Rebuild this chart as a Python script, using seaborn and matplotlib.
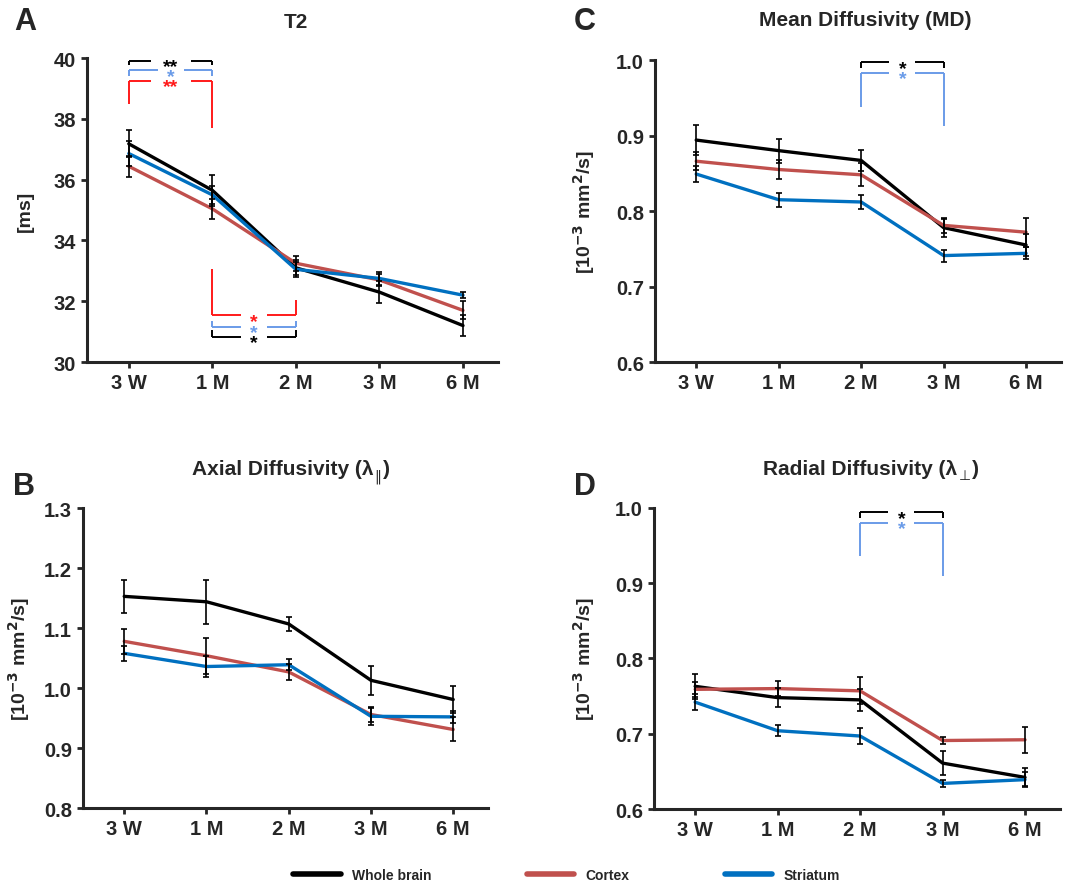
import numpy as np
import pandas as pd
import matplotlib
matplotlib.use('Agg')
import matplotlib.pyplot as plt
import seaborn as sns

times = ['3 W', '1 M', '2 M', '3 M', '6 M']
regions = ['Whole brain', 'Cortex', 'Striatum']
region_colors = ['#000000', '#c0504d', '#0070c0']

# T2 [ms]
t2_whole = [37.18, 35.65, 33.10, 32.30, 31.20]
t2_cortex = [36.44, 35.04, 33.25, 32.70, 31.70]
t2_striatum = [36.86, 35.50, 33.05, 32.75, 32.20]
t2_whole_err = [0.45, 0.50, 0.25, 0.35, 0.35]
t2_cortex_err = [0.35, 0.32, 0.25, 0.20, 0.30]
t2_striatum_err = [0.40, 0.30, 0.25, 0.20, 0.10]

# Mean diffusivity
md_whole = [0.894, 0.880, 0.867, 0.778, 0.755]
md_cortex = [0.866, 0.855, 0.848, 0.781, 0.772]
md_striatum = [0.849, 0.815, 0.812, 0.741, 0.744]
md_whole_err = [0.020, 0.016, 0.014, 0.012, 0.015]
md_cortex_err = [0.012, 0.012, 0.015, 0.010, 0.019]
md_striatum_err = [0.010, 0.009, 0.009, 0.008, 0.008]

# Axial diffusivity
ad_whole = [1.153, 1.144, 1.107, 1.013, 0.981]
ad_cortex = [1.078, 1.054, 1.027, 0.956, 0.931]
ad_striatum = [1.058, 1.036, 1.039, 0.953, 0.952]
ad_whole_err = [0.027, 0.037, 0.012, 0.024, 0.023]
ad_cortex_err = [0.021, 0.030, 0.014, 0.012, 0.020]
ad_striatum_err = [0.012, 0.017, 0.009, 0.014, 0.010]

# Radial diffusivity
rd_whole = [0.763, 0.748, 0.745, 0.661, 0.642]
rd_cortex = [0.759, 0.760, 0.757, 0.691, 0.692]
rd_striatum = [0.742, 0.704, 0.697, 0.634, 0.639]
rd_whole_err = [0.017, 0.013, 0.015, 0.016, 0.012]
rd_cortex_err = [0.010, 0.010, 0.018, 0.005, 0.017]
rd_striatum_err = [0.011, 0.007, 0.011, 0.005, 0.010]

# significance brackets: (from, to, y, left leg end, right leg end, label, colour)
t2_brackets = [
    (0, 1, 39.92, 39.76, 39.76, '**', '#000000'),
    (0, 1, 39.60, 39.42, 39.42, '*', '#6a9be8'),
    (0, 1, 39.25, 38.50, 37.70, '**', '#ff1a1a'),
    (1, 2, 31.54, 33.05, 32.03, '*', '#ff1a1a'),
    (1, 2, 31.15, 31.35, 31.35, '*', '#6a9be8'),
    (1, 2, 30.82, 31.04, 31.04, '*', '#000000'),
]
md_brackets = [
    (2, 3, 0.997, 0.989, 0.989, '*', '#000000'),
    (2, 3, 0.983, 0.938, 0.912, '*', '#6a9be8'),
]
rd_brackets = [
    (2, 3, 0.994, 0.986, 0.986, '*', '#000000'),
    (2, 3, 0.980, 0.936, 0.909, '*', '#6a9be8'),
]

sns.set_style('ticks')
plt.rcParams['font.family'] = ['Liberation Sans', 'DejaVu Sans']
plt.rcParams['font.weight'] = 'bold'
plt.rcParams['mathtext.fontset'] = 'dejavusans'

fig = plt.figure(figsize=(10.65, 8.87), dpi=100)


def draw_panel(ax, means, errs, ylim, yticks, ylabel, label_x, brackets=()):
    rows = []
    for reg, vals in zip(regions, means):
        for t, v in zip(times, vals):
            rows.append({'time': t, 'region': reg, 'value': v})
    df = pd.DataFrame(rows)
    sns.lineplot(data=df, x='time', y='value', hue='region', hue_order=regions,
                 palette=region_colors, sort=False, lw=2.4, legend=False, ax=ax)
    for vals, err in zip(means, errs):
        ax.errorbar(times, vals, yerr=err, fmt='none', ecolor='black',
                    elinewidth=1.2, capsize=2.5, capthick=1.2, zorder=4)
    ax.set_xlim(-0.5, 4.42)
    ax.set_ylim(*ylim)
    ax.set_yticks(yticks)
    if isinstance(yticks[0], float):
        ax.yaxis.set_major_formatter('{x:.1f}')
    ax.set_xlabel('')
    ax.set_ylabel(ylabel, fontsize=14, fontweight='bold')
    ax.yaxis.set_label_coords(label_x, 0.5)
    for s in ['left', 'bottom']:
        ax.spines[s].set_linewidth(2.2)
    sns.despine(ax=ax)
    ax.tick_params(direction='out', length=4, width=2.0, labelsize=14.5, pad=4)
    for lab in ax.get_xticklabels() + ax.get_yticklabels():
        lab.set_fontweight('bold')

    # px per x unit -> gap around stars
    unit_px = ax.get_position().width * fig.get_figwidth() * fig.dpi / 4.92
    for x0, x1, y, yl, yr, lab, col in brackets:
        xm = (x0 + x1) / 2
        gap = (6 + 7 * len(lab)) / unit_px
        kw = dict(color=col, lw=1.4, clip_on=False, solid_capstyle='butt')
        ax.plot([x0, x0], [yl, y], **kw)
        ax.plot([x1, x1], [yr, y], **kw)
        ax.plot([x0, xm - gap], [y, y], **kw)
        ax.plot([xm + gap, x1], [y, y], **kw)
        ax.annotate(lab, xy=(xm, y), xytext=(0, -7.5), textcoords='offset points',
                    ha='center', va='baseline', color=col, fontsize=14,
                    fontweight='bold', annotation_clip=False)


def title_with_sub(xc, y, main, sub, tail):
    # title text with a small lowered subscript glyph, centred on xc
    renderer = fig.canvas.get_renderer()
    t1 = fig.text(0, y, main, fontsize=15, fontweight='bold', va='baseline')
    t2 = fig.text(0, y - 0.006, sub, fontsize=10, family='DejaVu Sans',
                  fontweight='normal', va='baseline')
    t3 = fig.text(0, y, tail, fontsize=15, fontweight='bold', va='baseline')
    fw = fig.get_figwidth() * fig.dpi
    widths = [t.get_window_extent(renderer).width / fw for t in (t1, t2, t3)]
    x0 = xc - sum(widths) / 2
    t1.set_x(x0)
    t2.set_x(x0 + widths[0] + 0.001)
    t3.set_x(x0 + widths[0] + widths[1] + 0.002)


ylab_diff = r'[10$^{\mathbf{-3}}$ mm$^{\mathbf{2}}$/s]'

ax_a = fig.add_axes([0.0817, 0.5907, 0.386, 0.3427])
draw_panel(ax_a, [t2_whole, t2_cortex, t2_striatum],
           [t2_whole_err, t2_cortex_err, t2_striatum_err],
           (30, 40), [30, 32, 34, 36, 38, 40], '[ms]', -0.13, t2_brackets)

ax_c = fig.add_axes([0.615, 0.5907, 0.381, 0.3405])
draw_panel(ax_c, [md_whole, md_cortex, md_striatum],
           [md_whole_err, md_cortex_err, md_striatum_err],
           (0.6, 1.0), [0.6, 0.7, 0.8, 0.9, 1.0], ylab_diff, -0.143, md_brackets)

ax_b = fig.add_axes([0.078, 0.0879, 0.380, 0.338])
draw_panel(ax_b, [ad_whole, ad_cortex, ad_striatum],
           [ad_whole_err, ad_cortex_err, ad_striatum_err],
           (0.8, 1.3), [0.8, 0.9, 1.0, 1.1, 1.2, 1.3], ylab_diff, -0.126)

ax_d = fig.add_axes([0.614, 0.0868, 0.381, 0.3394])
draw_panel(ax_d, [rd_whole, rd_cortex, rd_striatum],
           [rd_whole_err, rd_cortex_err, rd_striatum_err],
           (0.6, 1.0), [0.6, 0.7, 0.8, 0.9, 1.0], ylab_diff, -0.14, rd_brackets)

# panel letters and titles
for letter, x, y in [('A', 0.024, 0.975), ('C', 0.549, 0.975),
                     ('B', 0.023, 0.451), ('D', 0.549, 0.451)]:
    fig.text(x, y, letter, fontsize=22, fontweight='bold', ha='center', va='center')

fig.text(0.278, 0.975, 'T2', fontsize=15, fontweight='bold', ha='center', va='center')
fig.text(0.812, 0.977, 'Mean Diffusivity (MD)', fontsize=15, fontweight='bold',
         ha='center', va='center')
title_with_sub(0.272, 0.4645, 'Axial Diffusivity (λ', '\u2016', ')')
title_with_sub(0.817, 0.4645, 'Radial Diffusivity (λ', '\u22a5', ')')

handles = [plt.Line2D([], [], color=c, lw=4, solid_capstyle='round') for c in region_colors]
leg = fig.legend(handles, regions, loc='center', bbox_to_anchor=(0.532, 0.012),
                 ncol=3, frameon=False, handlelength=3.4, handletextpad=0.8,
                 columnspacing=6.9, prop={'size': 10, 'weight': 'bold'})

fig.savefig('out.png', dpi=100)
